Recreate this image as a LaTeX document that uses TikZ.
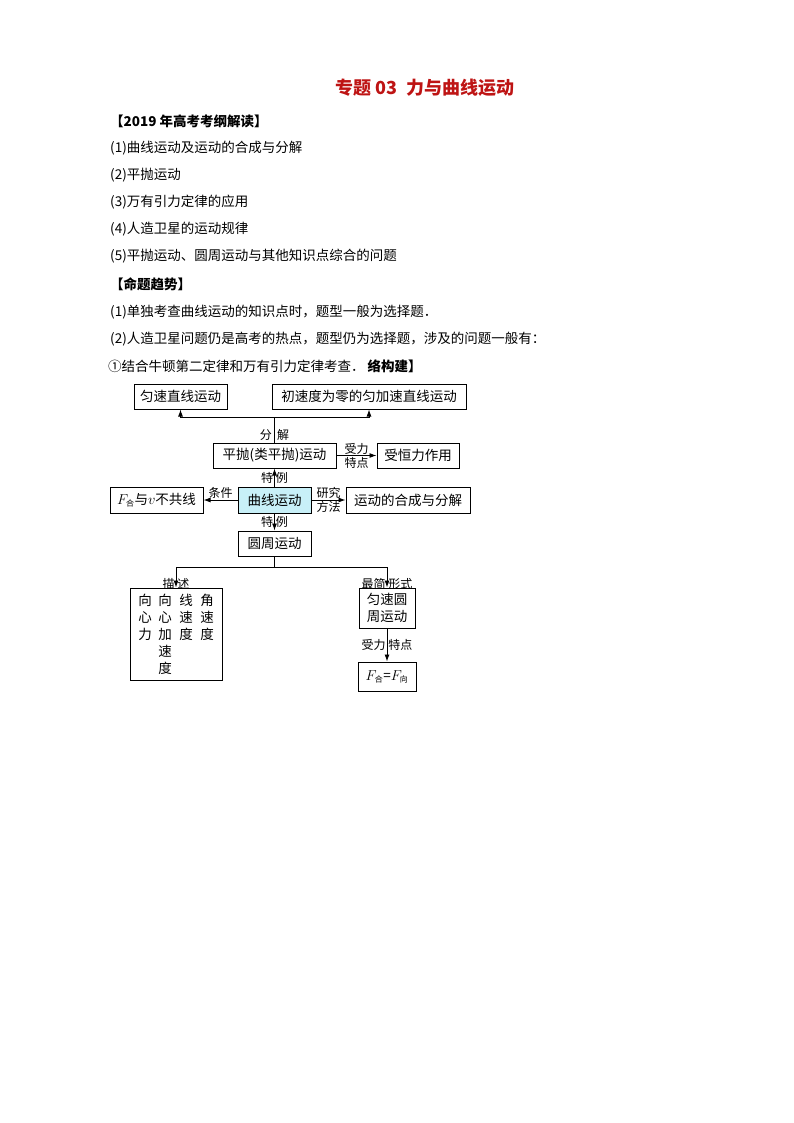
\documentclass[tikz,border=0pt]{standalone}
\usepackage{fontspec}
\setmainfont{Noto Sans CJK SC}
\usetikzlibrary{arrows.meta}
\newcommand{\subcn}[1]{\mbox{\fontsize{8}{9}\selectfont #1}}
\begin{document}
\begin{tikzpicture}[x=1pt,y=-1pt,
 bx/.style={draw,line width=1pt,inner sep=0pt,font=\fontsize{13.5}{15}\selectfont},
 ar/.style={-{Latex[length=7pt,width=5pt]},line width=0.9pt},
 ln/.style={line width=0.9pt},
 lb/.style={font=\fontsize{12}{13}\selectfont,inner sep=1pt},
 tx/.style={anchor=west,font=\fontsize{13.5}{15}\selectfont,inner sep=0pt}]
\useasboundingbox (0,0) rectangle (794,1123);
\node[font=\bfseries\fontsize{18}{20}\selectfont,text={rgb,255:red,190;green,20;blue,20}] (title) at (425,88) {专题 03\ \ 力与曲线运动};
\node[tx] (t1) at (110,121) {\textbf{【2019 年高考考纲解读】}};
\node[tx] (t2) at (110,148) {(1)曲线运动及运动的合成与分解};
\node[tx] (t3) at (110,175) {(2)平抛运动};
\node[tx] (t4) at (110,202) {(3)万有引力定律的应用};
\node[tx] (t5) at (110,229) {(4)人造卫星的运动规律};
\node[tx] (t6) at (110,256) {(5)平抛运动、圆周运动与其他知识点综合的问题};
\node[tx] (t7) at (110,284) {\textbf{【命题趋势】}};
\node[tx] (t8) at (110,312) {(1)单独考查曲线运动的知识点时，题型一般为选择题．};
\node[tx] (t9) at (110,339) {(2)人造卫星问题仍是高考的热点，题型仍为选择题，涉及的问题一般有：};
\node[tx] (t10) at (108,366) {①结合牛顿第二定律和万有引力定律考查．\ \textbf{络构建】}};

\node[bx,minimum width=93pt,minimum height=25pt] (a) at (180.5,396.5) {匀速直线运动};
\node[bx,minimum width=194pt,minimum height=25pt] (b) at (369,396.5) {初速度为零的匀加速直线运动};
\node[bx,minimum width=123pt,minimum height=25pt] (p) at (274.5,455.5) {平抛(类平抛)运动};
\node[bx,minimum width=82pt,minimum height=25pt] (h) at (418,455.5) {受恒力作用};
\node[bx,fill={rgb,255:red,200;green,240;blue,248},minimum width=73pt,minimum height=26pt] (c) at (274.5,500) {曲线运动};
\node[bx,minimum width=93pt,minimum height=26pt] (f) at (156.5,500) {$F_{\subcn{合}}$与$v$不共线};
\node[bx,minimum width=124pt,minimum height=26pt] (m) at (408,500) {运动的合成与分解};
\node[bx,minimum width=73pt,minimum height=25pt] (r) at (274.5,543.5) {圆周运动};
\node[bx,minimum width=92pt,minimum height=92pt] (d) at (176,634) {};
\node[font=\fontsize{13.5}{17}\selectfont,anchor=north,align=center] (d1) at (145,591) {向\\心\\力};
\node[font=\fontsize{13.5}{17}\selectfont,anchor=north,align=center] (d2) at (165,591) {向\\心\\加\\速\\度};
\node[font=\fontsize{13.5}{17}\selectfont,anchor=north,align=center] (d3) at (186,591) {线\\速\\度};
\node[font=\fontsize{13.5}{17}\selectfont,anchor=north,align=center] (d4) at (207,591) {角\\速\\度};
\node[bx,minimum width=56pt,minimum height=40pt,align=center,font=\fontsize{13.5}{16.5}\selectfont] (u) at (387,608) {匀速圆\\周运动};
\node[bx,minimum width=58pt,minimum height=29pt] (e) at (387,676.5) {$F_{\subcn{合}}$=$F_{\subcn{向}}$};

\coordinate (j1) at (274.5,417);
\draw[ln] (p.north) -- (j1);
\draw[ar] (j1) -| (a.south);
\draw[ar] (j1) -| (b.south);
\node[lb,anchor=east] (l1) at (273,435) {分};
\node[lb,anchor=west] (l2) at (276,435) {解};
\draw[ar] (p) -- (h) node[lb,midway,above] {受力} node[lb,midway,below] {特点};
\draw[ar] (c) -- (p) node[lb,midway,left] {特} node[lb,midway,right] {例};
\draw[ar] (c) -- (f) node[lb,midway,above] {条件};
\draw[ar] (c) -- (m) node[lb,midway,above] {研究} node[lb,midway,below] {方法};
\draw[ar] (c) -- (r) node[lb,midway,left] {特} node[lb,midway,right] {例};
\coordinate (j2) at (274.5,567);
\draw[ln] (r.south) -- (j2);
\draw[ar] (j2) -| (d.north) node[lb,pos=0.92,left] {描} node[lb,pos=0.92,right] {述};
\draw[ar] (j2) -| (u.north) node[lb,pos=0.92,left] {最简} node[lb,pos=0.92,right] {形式};
\draw[ar] (u) -- (e) node[lb,midway,left] {受力} node[lb,midway,right] {特点};
\end{tikzpicture}
\end{document}
